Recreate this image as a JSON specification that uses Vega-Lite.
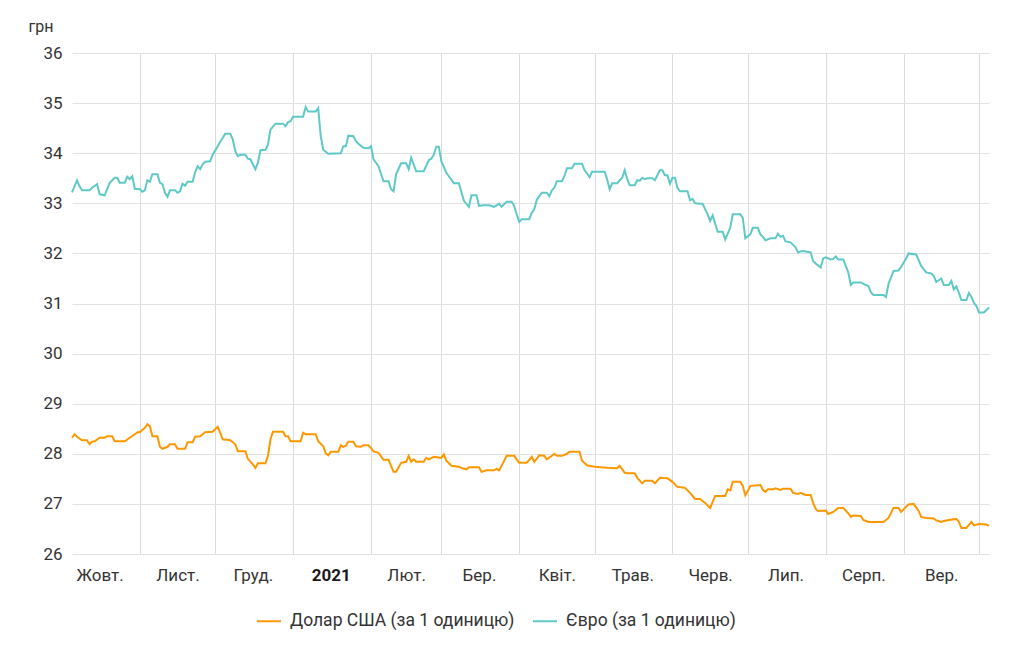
{
  "$schema": "https://vega.github.io/schema/vega-lite/v6.json",
  "width": 917,
  "height": 501,
  "autosize": "none",
  "padding": {"left": 72, "top": 53, "right": 35, "bottom": 109},
  "config": {
    "font": "Roboto",
    "view": {"stroke": null},
    "axis": {
      "labelFont": "Roboto",
      "labelColor": "#333333",
      "labelFontSize": 17,
      "domain": false,
      "ticks": false,
      "tickSize": 0,
      "gridColor": "#e2e2e2",
      "gridWidth": 1
    },
    "legend": {
      "labelFont": "Roboto",
      "labelFontSize": 17.5,
      "labelColor": "#333333",
      "labelLimit": 0
    }
  },
  "datasets": {
    "usd": [
      {"date": "2020-10-05", "value": 28.32},
      {"date": "2020-10-06", "value": 28.39},
      {"date": "2020-10-07", "value": 28.34},
      {"date": "2020-10-09", "value": 28.27},
      {"date": "2020-10-11", "value": 28.27},
      {"date": "2020-10-12", "value": 28.19},
      {"date": "2020-10-13", "value": 28.24},
      {"date": "2020-10-14", "value": 28.25},
      {"date": "2020-10-16", "value": 28.32},
      {"date": "2020-10-18", "value": 28.32},
      {"date": "2020-10-19", "value": 28.35},
      {"date": "2020-10-21", "value": 28.35},
      {"date": "2020-10-22", "value": 28.25},
      {"date": "2020-10-26", "value": 28.25},
      {"date": "2020-10-28", "value": 28.32},
      {"date": "2020-10-30", "value": 28.39},
      {"date": "2020-10-31", "value": 28.43},
      {"date": "2020-11-01", "value": 28.43},
      {"date": "2020-11-03", "value": 28.52},
      {"date": "2020-11-04", "value": 28.59},
      {"date": "2020-11-05", "value": 28.55},
      {"date": "2020-11-06", "value": 28.35},
      {"date": "2020-11-08", "value": 28.35},
      {"date": "2020-11-09", "value": 28.14},
      {"date": "2020-11-10", "value": 28.10},
      {"date": "2020-11-12", "value": 28.14},
      {"date": "2020-11-13", "value": 28.19},
      {"date": "2020-11-15", "value": 28.19},
      {"date": "2020-11-16", "value": 28.10},
      {"date": "2020-11-19", "value": 28.10},
      {"date": "2020-11-20", "value": 28.23},
      {"date": "2020-11-22", "value": 28.23},
      {"date": "2020-11-23", "value": 28.34},
      {"date": "2020-11-25", "value": 28.35},
      {"date": "2020-11-27", "value": 28.43},
      {"date": "2020-11-30", "value": 28.44},
      {"date": "2020-12-01", "value": 28.49},
      {"date": "2020-12-02", "value": 28.54},
      {"date": "2020-12-03", "value": 28.42},
      {"date": "2020-12-04", "value": 28.29},
      {"date": "2020-12-07", "value": 28.27},
      {"date": "2020-12-09", "value": 28.19},
      {"date": "2020-12-10", "value": 28.05},
      {"date": "2020-12-13", "value": 28.05},
      {"date": "2020-12-14", "value": 27.90},
      {"date": "2020-12-16", "value": 27.79},
      {"date": "2020-12-17", "value": 27.72},
      {"date": "2020-12-18", "value": 27.81},
      {"date": "2020-12-21", "value": 27.81},
      {"date": "2020-12-22", "value": 27.96},
      {"date": "2020-12-23", "value": 28.29},
      {"date": "2020-12-24", "value": 28.44},
      {"date": "2020-12-28", "value": 28.44},
      {"date": "2020-12-29", "value": 28.35},
      {"date": "2020-12-30", "value": 28.35},
      {"date": "2020-12-31", "value": 28.25},
      {"date": "2021-01-04", "value": 28.25},
      {"date": "2021-01-05", "value": 28.42},
      {"date": "2021-01-06", "value": 28.39},
      {"date": "2021-01-10", "value": 28.39},
      {"date": "2021-01-11", "value": 28.25},
      {"date": "2021-01-13", "value": 28.15},
      {"date": "2021-01-14", "value": 28.01},
      {"date": "2021-01-15", "value": 27.97},
      {"date": "2021-01-16", "value": 28.04},
      {"date": "2021-01-19", "value": 28.04},
      {"date": "2021-01-20", "value": 28.17},
      {"date": "2021-01-21", "value": 28.14},
      {"date": "2021-01-22", "value": 28.16},
      {"date": "2021-01-23", "value": 28.24},
      {"date": "2021-01-25", "value": 28.24},
      {"date": "2021-01-26", "value": 28.15},
      {"date": "2021-01-28", "value": 28.14},
      {"date": "2021-01-29", "value": 28.17},
      {"date": "2021-01-31", "value": 28.17},
      {"date": "2021-02-01", "value": 28.12},
      {"date": "2021-02-02", "value": 28.05},
      {"date": "2021-02-04", "value": 28.02},
      {"date": "2021-02-06", "value": 27.88},
      {"date": "2021-02-08", "value": 27.88},
      {"date": "2021-02-09", "value": 27.76},
      {"date": "2021-02-10", "value": 27.64},
      {"date": "2021-02-11", "value": 27.64},
      {"date": "2021-02-13", "value": 27.82},
      {"date": "2021-02-15", "value": 27.84},
      {"date": "2021-02-16", "value": 27.96},
      {"date": "2021-02-17", "value": 27.84},
      {"date": "2021-02-18", "value": 27.89},
      {"date": "2021-02-19", "value": 27.84},
      {"date": "2021-02-22", "value": 27.84},
      {"date": "2021-02-23", "value": 27.92},
      {"date": "2021-02-24", "value": 27.89},
      {"date": "2021-02-26", "value": 27.94},
      {"date": "2021-03-01", "value": 27.92},
      {"date": "2021-03-02", "value": 27.99},
      {"date": "2021-03-03", "value": 27.86},
      {"date": "2021-03-05", "value": 27.76},
      {"date": "2021-03-08", "value": 27.74},
      {"date": "2021-03-10", "value": 27.70},
      {"date": "2021-03-11", "value": 27.69},
      {"date": "2021-03-12", "value": 27.73},
      {"date": "2021-03-16", "value": 27.73},
      {"date": "2021-03-17", "value": 27.64},
      {"date": "2021-03-19", "value": 27.67},
      {"date": "2021-03-22", "value": 27.67},
      {"date": "2021-03-23", "value": 27.70},
      {"date": "2021-03-24", "value": 27.67},
      {"date": "2021-03-25", "value": 27.76},
      {"date": "2021-03-27", "value": 27.96},
      {"date": "2021-03-30", "value": 27.96},
      {"date": "2021-04-01", "value": 27.82},
      {"date": "2021-04-04", "value": 27.82},
      {"date": "2021-04-06", "value": 27.94},
      {"date": "2021-04-07", "value": 27.84},
      {"date": "2021-04-09", "value": 27.97},
      {"date": "2021-04-11", "value": 27.96},
      {"date": "2021-04-12", "value": 27.89},
      {"date": "2021-04-14", "value": 27.96},
      {"date": "2021-04-15", "value": 28.00},
      {"date": "2021-04-16", "value": 27.96},
      {"date": "2021-04-18", "value": 27.96},
      {"date": "2021-04-20", "value": 28.00},
      {"date": "2021-04-21", "value": 28.04},
      {"date": "2021-04-25", "value": 28.04},
      {"date": "2021-04-26", "value": 27.86},
      {"date": "2021-04-28", "value": 27.77},
      {"date": "2021-04-29", "value": 27.76},
      {"date": "2021-05-01", "value": 27.74},
      {"date": "2021-05-06", "value": 27.72},
      {"date": "2021-05-10", "value": 27.71},
      {"date": "2021-05-11", "value": 27.76},
      {"date": "2021-05-13", "value": 27.62},
      {"date": "2021-05-14", "value": 27.61},
      {"date": "2021-05-17", "value": 27.61},
      {"date": "2021-05-18", "value": 27.52},
      {"date": "2021-05-20", "value": 27.41},
      {"date": "2021-05-21", "value": 27.46},
      {"date": "2021-05-24", "value": 27.46},
      {"date": "2021-05-25", "value": 27.41},
      {"date": "2021-05-27", "value": 27.52},
      {"date": "2021-05-30", "value": 27.51},
      {"date": "2021-06-01", "value": 27.44},
      {"date": "2021-06-03", "value": 27.34},
      {"date": "2021-06-06", "value": 27.32},
      {"date": "2021-06-08", "value": 27.22},
      {"date": "2021-06-10", "value": 27.10},
      {"date": "2021-06-12", "value": 27.10},
      {"date": "2021-06-14", "value": 27.02},
      {"date": "2021-06-16", "value": 26.92},
      {"date": "2021-06-18", "value": 27.16},
      {"date": "2021-06-22", "value": 27.16},
      {"date": "2021-06-23", "value": 27.29},
      {"date": "2021-06-24", "value": 27.27},
      {"date": "2021-06-25", "value": 27.44},
      {"date": "2021-06-28", "value": 27.44},
      {"date": "2021-06-29", "value": 27.36},
      {"date": "2021-06-30", "value": 27.17},
      {"date": "2021-07-01", "value": 27.26},
      {"date": "2021-07-02", "value": 27.36},
      {"date": "2021-07-05", "value": 27.37},
      {"date": "2021-07-06", "value": 27.38},
      {"date": "2021-07-07", "value": 27.28},
      {"date": "2021-07-08", "value": 27.24},
      {"date": "2021-07-09", "value": 27.29},
      {"date": "2021-07-11", "value": 27.29},
      {"date": "2021-07-12", "value": 27.31},
      {"date": "2021-07-14", "value": 27.28},
      {"date": "2021-07-15", "value": 27.30},
      {"date": "2021-07-18", "value": 27.30},
      {"date": "2021-07-19", "value": 27.22},
      {"date": "2021-07-21", "value": 27.20},
      {"date": "2021-07-22", "value": 27.22},
      {"date": "2021-07-24", "value": 27.18},
      {"date": "2021-07-26", "value": 27.18},
      {"date": "2021-07-27", "value": 27.02},
      {"date": "2021-07-28", "value": 26.90},
      {"date": "2021-07-29", "value": 26.86},
      {"date": "2021-08-01", "value": 26.87},
      {"date": "2021-08-02", "value": 26.80},
      {"date": "2021-08-04", "value": 26.84},
      {"date": "2021-08-06", "value": 26.92},
      {"date": "2021-08-08", "value": 26.92},
      {"date": "2021-08-10", "value": 26.81},
      {"date": "2021-08-11", "value": 26.74},
      {"date": "2021-08-12", "value": 26.77},
      {"date": "2021-08-15", "value": 26.76},
      {"date": "2021-08-16", "value": 26.68},
      {"date": "2021-08-18", "value": 26.64},
      {"date": "2021-08-24", "value": 26.64},
      {"date": "2021-08-26", "value": 26.72},
      {"date": "2021-08-27", "value": 26.82},
      {"date": "2021-08-28", "value": 26.92},
      {"date": "2021-08-30", "value": 26.92},
      {"date": "2021-08-31", "value": 26.84},
      {"date": "2021-09-01", "value": 26.89},
      {"date": "2021-09-03", "value": 26.99},
      {"date": "2021-09-05", "value": 27.00},
      {"date": "2021-09-07", "value": 26.86},
      {"date": "2021-09-08", "value": 26.74},
      {"date": "2021-09-10", "value": 26.72},
      {"date": "2021-09-13", "value": 26.71},
      {"date": "2021-09-14", "value": 26.67},
      {"date": "2021-09-16", "value": 26.64},
      {"date": "2021-09-17", "value": 26.66},
      {"date": "2021-09-19", "value": 26.68},
      {"date": "2021-09-22", "value": 26.70},
      {"date": "2021-09-23", "value": 26.64},
      {"date": "2021-09-24", "value": 26.52},
      {"date": "2021-09-26", "value": 26.52},
      {"date": "2021-09-28", "value": 26.64},
      {"date": "2021-09-29", "value": 26.57},
      {"date": "2021-10-01", "value": 26.60},
      {"date": "2021-10-04", "value": 26.59},
      {"date": "2021-10-05", "value": 26.56}
    ],
    "eur": [
      {"date": "2020-10-05", "value": 33.22},
      {"date": "2020-10-07", "value": 33.46},
      {"date": "2020-10-08", "value": 33.34},
      {"date": "2020-10-09", "value": 33.26},
      {"date": "2020-10-12", "value": 33.26},
      {"date": "2020-10-13", "value": 33.31},
      {"date": "2020-10-15", "value": 33.38},
      {"date": "2020-10-16", "value": 33.18},
      {"date": "2020-10-18", "value": 33.16},
      {"date": "2020-10-20", "value": 33.41},
      {"date": "2020-10-22", "value": 33.51},
      {"date": "2020-10-23", "value": 33.51},
      {"date": "2020-10-24", "value": 33.41},
      {"date": "2020-10-26", "value": 33.41},
      {"date": "2020-10-27", "value": 33.53},
      {"date": "2020-10-28", "value": 33.48},
      {"date": "2020-10-29", "value": 33.54},
      {"date": "2020-10-30", "value": 33.29},
      {"date": "2020-11-01", "value": 33.28},
      {"date": "2020-11-02", "value": 33.23},
      {"date": "2020-11-03", "value": 33.26},
      {"date": "2020-11-04", "value": 33.46},
      {"date": "2020-11-05", "value": 33.43},
      {"date": "2020-11-06", "value": 33.58},
      {"date": "2020-11-08", "value": 33.58},
      {"date": "2020-11-09", "value": 33.41},
      {"date": "2020-11-10", "value": 33.38},
      {"date": "2020-11-11", "value": 33.21},
      {"date": "2020-11-12", "value": 33.13},
      {"date": "2020-11-13", "value": 33.26},
      {"date": "2020-11-15", "value": 33.26},
      {"date": "2020-11-16", "value": 33.21},
      {"date": "2020-11-17", "value": 33.24},
      {"date": "2020-11-18", "value": 33.39},
      {"date": "2020-11-19", "value": 33.35},
      {"date": "2020-11-20", "value": 33.43},
      {"date": "2020-11-22", "value": 33.43},
      {"date": "2020-11-23", "value": 33.62},
      {"date": "2020-11-24", "value": 33.74},
      {"date": "2020-11-25", "value": 33.68},
      {"date": "2020-11-26", "value": 33.78},
      {"date": "2020-11-27", "value": 33.83},
      {"date": "2020-11-29", "value": 33.84},
      {"date": "2020-11-30", "value": 33.97},
      {"date": "2020-12-02", "value": 34.14},
      {"date": "2020-12-03", "value": 34.23},
      {"date": "2020-12-05", "value": 34.39},
      {"date": "2020-12-07", "value": 34.39},
      {"date": "2020-12-08", "value": 34.27},
      {"date": "2020-12-09", "value": 34.04},
      {"date": "2020-12-10", "value": 33.94},
      {"date": "2020-12-11", "value": 33.97},
      {"date": "2020-12-13", "value": 33.97},
      {"date": "2020-12-14", "value": 33.89},
      {"date": "2020-12-15", "value": 33.88},
      {"date": "2020-12-17", "value": 33.68},
      {"date": "2020-12-18", "value": 33.81},
      {"date": "2020-12-19", "value": 34.06},
      {"date": "2020-12-21", "value": 34.07},
      {"date": "2020-12-22", "value": 34.17},
      {"date": "2020-12-23", "value": 34.47},
      {"date": "2020-12-25", "value": 34.59},
      {"date": "2020-12-28", "value": 34.59},
      {"date": "2020-12-29", "value": 34.54},
      {"date": "2020-12-30", "value": 34.62},
      {"date": "2020-12-31", "value": 34.64},
      {"date": "2021-01-01", "value": 34.73},
      {"date": "2021-01-05", "value": 34.73},
      {"date": "2021-01-06", "value": 34.92},
      {"date": "2021-01-07", "value": 34.83},
      {"date": "2021-01-10", "value": 34.83},
      {"date": "2021-01-11", "value": 34.90},
      {"date": "2021-01-12", "value": 34.34},
      {"date": "2021-01-13", "value": 34.07},
      {"date": "2021-01-15", "value": 33.99},
      {"date": "2021-01-20", "value": 34.00},
      {"date": "2021-01-21", "value": 34.14},
      {"date": "2021-01-22", "value": 34.14},
      {"date": "2021-01-23", "value": 34.35},
      {"date": "2021-01-25", "value": 34.34},
      {"date": "2021-01-26", "value": 34.24},
      {"date": "2021-01-27", "value": 34.19},
      {"date": "2021-01-29", "value": 34.11},
      {"date": "2021-01-31", "value": 34.10},
      {"date": "2021-02-01", "value": 34.14},
      {"date": "2021-02-02", "value": 33.88},
      {"date": "2021-02-04", "value": 33.74},
      {"date": "2021-02-06", "value": 33.44},
      {"date": "2021-02-08", "value": 33.44},
      {"date": "2021-02-09", "value": 33.28},
      {"date": "2021-02-10", "value": 33.24},
      {"date": "2021-02-11", "value": 33.58},
      {"date": "2021-02-13", "value": 33.80},
      {"date": "2021-02-15", "value": 33.80},
      {"date": "2021-02-16", "value": 33.68},
      {"date": "2021-02-17", "value": 33.91},
      {"date": "2021-02-19", "value": 33.64},
      {"date": "2021-02-22", "value": 33.64},
      {"date": "2021-02-24", "value": 33.86},
      {"date": "2021-02-25", "value": 33.89},
      {"date": "2021-02-26", "value": 33.97},
      {"date": "2021-02-27", "value": 34.13},
      {"date": "2021-02-28", "value": 34.13},
      {"date": "2021-03-01", "value": 33.84},
      {"date": "2021-03-03", "value": 33.61},
      {"date": "2021-03-04", "value": 33.54},
      {"date": "2021-03-06", "value": 33.40},
      {"date": "2021-03-08", "value": 33.40},
      {"date": "2021-03-10", "value": 33.05},
      {"date": "2021-03-12", "value": 32.93},
      {"date": "2021-03-13", "value": 33.16},
      {"date": "2021-03-15", "value": 33.16},
      {"date": "2021-03-16", "value": 32.95},
      {"date": "2021-03-18", "value": 32.96},
      {"date": "2021-03-20", "value": 32.96},
      {"date": "2021-03-22", "value": 32.93},
      {"date": "2021-03-24", "value": 32.99},
      {"date": "2021-03-25", "value": 32.93},
      {"date": "2021-03-27", "value": 33.03},
      {"date": "2021-03-29", "value": 33.03},
      {"date": "2021-03-30", "value": 32.95},
      {"date": "2021-03-31", "value": 32.78},
      {"date": "2021-04-01", "value": 32.63},
      {"date": "2021-04-02", "value": 32.68},
      {"date": "2021-04-05", "value": 32.68},
      {"date": "2021-04-06", "value": 32.81},
      {"date": "2021-04-07", "value": 32.88},
      {"date": "2021-04-08", "value": 33.07},
      {"date": "2021-04-10", "value": 33.21},
      {"date": "2021-04-12", "value": 33.21},
      {"date": "2021-04-13", "value": 33.14},
      {"date": "2021-04-14", "value": 33.26},
      {"date": "2021-04-15", "value": 33.31},
      {"date": "2021-04-16", "value": 33.44},
      {"date": "2021-04-18", "value": 33.44},
      {"date": "2021-04-19", "value": 33.54},
      {"date": "2021-04-20", "value": 33.70},
      {"date": "2021-04-22", "value": 33.70},
      {"date": "2021-04-23", "value": 33.79},
      {"date": "2021-04-26", "value": 33.79},
      {"date": "2021-04-27", "value": 33.66},
      {"date": "2021-04-28", "value": 33.60},
      {"date": "2021-04-29", "value": 33.52},
      {"date": "2021-04-30", "value": 33.63},
      {"date": "2021-05-05", "value": 33.63},
      {"date": "2021-05-06", "value": 33.48},
      {"date": "2021-05-07", "value": 33.28},
      {"date": "2021-05-08", "value": 33.40},
      {"date": "2021-05-10", "value": 33.40},
      {"date": "2021-05-12", "value": 33.51},
      {"date": "2021-05-13", "value": 33.66},
      {"date": "2021-05-14", "value": 33.48},
      {"date": "2021-05-15", "value": 33.36},
      {"date": "2021-05-17", "value": 33.36},
      {"date": "2021-05-18", "value": 33.46},
      {"date": "2021-05-19", "value": 33.45},
      {"date": "2021-05-20", "value": 33.51},
      {"date": "2021-05-21", "value": 33.48},
      {"date": "2021-05-22", "value": 33.50},
      {"date": "2021-05-24", "value": 33.50},
      {"date": "2021-05-25", "value": 33.46},
      {"date": "2021-05-27", "value": 33.66},
      {"date": "2021-05-28", "value": 33.66},
      {"date": "2021-05-29", "value": 33.56},
      {"date": "2021-05-30", "value": 33.56},
      {"date": "2021-05-31", "value": 33.39},
      {"date": "2021-06-01", "value": 33.51},
      {"date": "2021-06-02", "value": 33.51},
      {"date": "2021-06-03", "value": 33.31},
      {"date": "2021-06-04", "value": 33.24},
      {"date": "2021-06-07", "value": 33.24},
      {"date": "2021-06-08", "value": 33.06},
      {"date": "2021-06-09", "value": 33.09},
      {"date": "2021-06-10", "value": 33.00},
      {"date": "2021-06-12", "value": 32.99},
      {"date": "2021-06-13", "value": 32.99},
      {"date": "2021-06-15", "value": 32.78},
      {"date": "2021-06-16", "value": 32.65},
      {"date": "2021-06-17", "value": 32.76},
      {"date": "2021-06-19", "value": 32.43},
      {"date": "2021-06-21", "value": 32.43},
      {"date": "2021-06-22", "value": 32.28},
      {"date": "2021-06-24", "value": 32.51},
      {"date": "2021-06-25", "value": 32.78},
      {"date": "2021-06-28", "value": 32.78},
      {"date": "2021-06-29", "value": 32.71},
      {"date": "2021-06-30", "value": 32.30},
      {"date": "2021-07-02", "value": 32.38},
      {"date": "2021-07-03", "value": 32.51},
      {"date": "2021-07-05", "value": 32.51},
      {"date": "2021-07-06", "value": 32.38},
      {"date": "2021-07-07", "value": 32.33},
      {"date": "2021-07-08", "value": 32.26},
      {"date": "2021-07-10", "value": 32.30},
      {"date": "2021-07-12", "value": 32.30},
      {"date": "2021-07-13", "value": 32.39},
      {"date": "2021-07-14", "value": 32.33},
      {"date": "2021-07-15", "value": 32.35},
      {"date": "2021-07-16", "value": 32.24},
      {"date": "2021-07-18", "value": 32.22},
      {"date": "2021-07-20", "value": 32.12},
      {"date": "2021-07-21", "value": 32.02},
      {"date": "2021-07-22", "value": 32.04},
      {"date": "2021-07-23", "value": 32.05},
      {"date": "2021-07-26", "value": 32.02},
      {"date": "2021-07-27", "value": 31.85},
      {"date": "2021-07-28", "value": 31.80},
      {"date": "2021-07-30", "value": 31.72},
      {"date": "2021-07-31", "value": 31.90},
      {"date": "2021-08-01", "value": 31.92},
      {"date": "2021-08-03", "value": 31.88},
      {"date": "2021-08-04", "value": 31.89},
      {"date": "2021-08-05", "value": 31.94},
      {"date": "2021-08-06", "value": 31.88},
      {"date": "2021-08-08", "value": 31.88},
      {"date": "2021-08-10", "value": 31.62},
      {"date": "2021-08-11", "value": 31.37},
      {"date": "2021-08-12", "value": 31.42},
      {"date": "2021-08-15", "value": 31.42},
      {"date": "2021-08-16", "value": 31.39},
      {"date": "2021-08-18", "value": 31.35},
      {"date": "2021-08-19", "value": 31.22},
      {"date": "2021-08-20", "value": 31.17},
      {"date": "2021-08-24", "value": 31.17},
      {"date": "2021-08-25", "value": 31.13},
      {"date": "2021-08-26", "value": 31.39},
      {"date": "2021-08-28", "value": 31.65},
      {"date": "2021-08-30", "value": 31.66},
      {"date": "2021-08-31", "value": 31.73},
      {"date": "2021-09-02", "value": 31.90},
      {"date": "2021-09-03", "value": 32.00},
      {"date": "2021-09-06", "value": 31.98},
      {"date": "2021-09-08", "value": 31.75},
      {"date": "2021-09-10", "value": 31.62},
      {"date": "2021-09-12", "value": 31.60},
      {"date": "2021-09-13", "value": 31.55},
      {"date": "2021-09-14", "value": 31.43},
      {"date": "2021-09-16", "value": 31.50},
      {"date": "2021-09-17", "value": 31.37},
      {"date": "2021-09-19", "value": 31.37},
      {"date": "2021-09-20", "value": 31.45},
      {"date": "2021-09-21", "value": 31.28},
      {"date": "2021-09-22", "value": 31.34},
      {"date": "2021-09-23", "value": 31.22},
      {"date": "2021-09-24", "value": 31.07},
      {"date": "2021-09-26", "value": 31.07},
      {"date": "2021-09-27", "value": 31.21},
      {"date": "2021-09-28", "value": 31.13},
      {"date": "2021-09-29", "value": 31.01},
      {"date": "2021-09-30", "value": 30.95},
      {"date": "2021-10-01", "value": 30.82},
      {"date": "2021-10-03", "value": 30.82},
      {"date": "2021-10-05", "value": 30.92}
    ]
  },
  "layer": [
    {
      "data": {"name": "usd"},
      "mark": {"type": "line", "strokeWidth": 2},
      "encoding": {
        "x": {
          "field": "date",
          "type": "temporal",
          "scale": {
            "domain": [
              {"year": 2020, "month": 10, "date": 5},
              {"year": 2021, "month": 10, "date": 5}
            ]
          },
          "axis": {
            "orient": "top",
            "title": null,
            "labels": false,
            "grid": true,
            "gridColor": "#dcdcdc",
            "values": [
              {"year": 2020, "month": 11, "date": 1},
              {"year": 2020, "month": 12, "date": 1},
              {"year": 2021, "month": 1, "date": 1},
              {"year": 2021, "month": 2, "date": 1},
              {"year": 2021, "month": 3, "date": 1},
              {"year": 2021, "month": 4, "date": 1},
              {"year": 2021, "month": 5, "date": 1},
              {"year": 2021, "month": 6, "date": 1},
              {"year": 2021, "month": 7, "date": 1},
              {"year": 2021, "month": 8, "date": 1},
              {"year": 2021, "month": 9, "date": 1},
              {"year": 2021, "month": 10, "date": 1}
            ]
          }
        },
        "y": {
          "field": "value",
          "type": "quantitative",
          "scale": {"domain": [26, 36], "nice": false, "zero": false},
          "axis": {
            "values": [26, 27, 28, 29, 30, 31, 32, 33, 34, 35, 36],
            "labelPadding": 10,
            "title": "грн",
            "titleAngle": 0,
            "titleAlign": "left",
            "titleBaseline": "alphabetic",
            "titleX": -44,
            "titleY": -22,
            "titleFont": "Roboto",
            "titleFontSize": 16,
            "titleFontWeight": "normal",
            "titleColor": "#333333"
          }
        },
        "color": {
          "datum": "Долар США (за 1 одиницю)",
          "type": "nominal",
          "scale": {
            "domain": ["Долар США (за 1 одиницю)", "Євро (за 1 одиницю)"],
            "range": ["#ff9800", "#5ec9c6"]
          },
          "legend": {
            "title": null,
            "orient": "none",
            "direction": "horizontal",
            "legendX": 184,
            "legendY": 555,
            "symbolType": "stroke",
            "symbolSize": 576,
            "symbolStrokeWidth": 2,
            "labelOffset": 8,
            "labelLimit": 0,
            "columnPadding": 14
          }
        }
      }
    },
    {
      "data": {"name": "eur"},
      "mark": {"type": "line", "strokeWidth": 2},
      "encoding": {
        "x": {
          "field": "date",
          "type": "temporal",
          "axis": {
            "orient": "bottom",
            "title": null,
            "grid": false,
            "labelPadding": 13,
            "labelOverlap": false,
            "labelFlush": false,
            "labelBound": false,
            "labelExpr": "month(datum.value) == 0 ? timeFormat(datum.value, '%Y') : ['Січ.', 'Лют.', 'Бер.', 'Квіт.', 'Трав.', 'Черв.', 'Лип.', 'Серп.', 'Вер.', 'Жовт.', 'Лист.', 'Груд.'][month(datum.value)]",
            "labelFontWeight": {"condition": {"test": "month(datum.value) == 0", "value": "bold"}, "value": "normal"},
            "labelColor": {"condition": {"test": "month(datum.value) == 0", "value": "#1a1a1a"}, "value": "#333333"},
            "values": [
              {"year": 2020, "month": 10, "date": 16},
              {"year": 2020, "month": 11, "date": 16},
              {"year": 2020, "month": 12, "date": 16},
              {"year": 2021, "month": 1, "date": 16},
              {"year": 2021, "month": 2, "date": 15},
              {"year": 2021, "month": 3, "date": 16},
              {"year": 2021, "month": 4, "date": 16},
              {"year": 2021, "month": 5, "date": 16},
              {"year": 2021, "month": 6, "date": 16},
              {"year": 2021, "month": 7, "date": 16},
              {"year": 2021, "month": 8, "date": 16},
              {"year": 2021, "month": 9, "date": 16}
            ]
          }
        },
        "y": {"field": "value", "type": "quantitative"},
        "color": {"datum": "Євро (за 1 одиницю)", "type": "nominal"}
      }
    }
  ],
  "resolve": {"axis": {"x": "independent"}}
}
